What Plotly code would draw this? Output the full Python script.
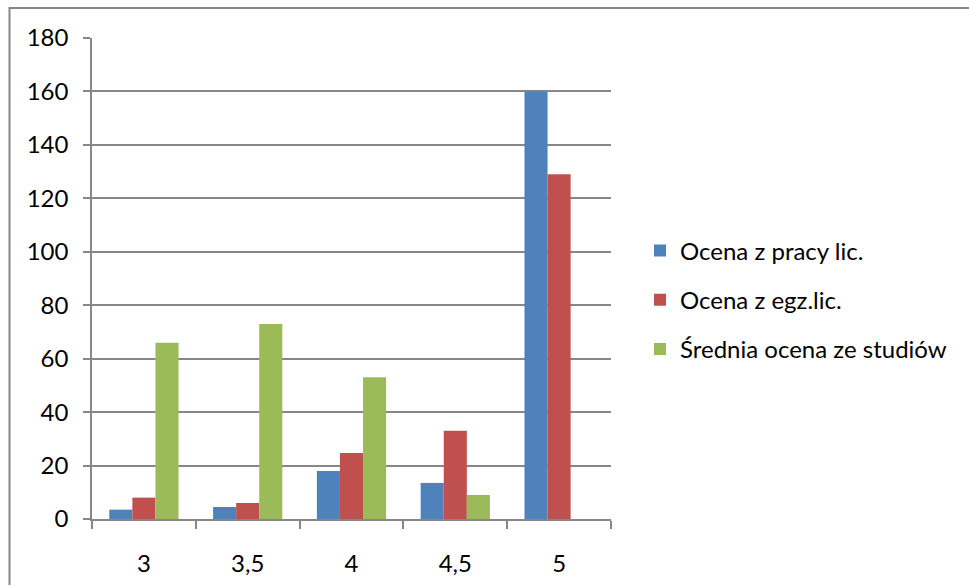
import plotly.graph_objects as go

categories = ["3", "3,5", "4", "4,5", "5"]
praca = [3.5, 4.5, 18, 13.5, 160]
egzamin = [8, 6, 24.7, 33, 129]
srednia = [66, 73, 53, 9, None]
series_names = ["Ocena z pracy lic.", "Ocena z egz.lic.", "Średnia ocena ze studiów"]
colors = ["#4F81BD", "#C0504D", "#9BBB59"]
y_ticks = [0, 20, 40, 60, 80, 100, 120, 140, 160, 180]

W, H = 969, 585
L, R, T, B = 92, 611, 37.5, 519.5

fig = go.Figure()
for i, (name, vals, c) in enumerate(zip(series_names, [praca, egzamin, srednia], colors)):
    fig.add_trace(go.Bar(x=categories, y=vals, name=name, marker_color=c,
                         marker_line_width=0, legendgroup=f"g{i}"))

def px_x(p):
    return (p - L) / (R - L)

def px_y(p):
    return (B - p) / (B - T)

fig.add_shape(type="rect", xref="paper", yref="paper",
              x0=px_x(9.5), x1=px_x(990), y0=px_y(600), y1=px_y(7.5),
              line=dict(color="#878787", width=2), fillcolor="rgba(0,0,0,0)", layer="below")

font = dict(family="Lato, Carlito, sans-serif", size=24, color="#000000")
fig.update_layout(
    width=W, height=H,
    margin=dict(l=L, r=W - R, t=T, b=H - B, pad=0, autoexpand=False),
    paper_bgcolor="white", plot_bgcolor="white",
    barmode="group", bargap=0.333, bargroupgap=0,
    font=font,
    showlegend=True,
    legend=dict(x=640 / W, xanchor="left", xref="container",
                y=1 - 300 / H, yanchor="middle", yref="container",
                font=dict(family="Lato, sans-serif", size=24, color="#000"),
                tracegroupgap=15, itemwidth=30, bgcolor="rgba(0,0,0,0)"),
    xaxis=dict(showgrid=False, showline=True, linecolor="#878787", linewidth=1.5,
               ticks="outside", tickson="boundaries", ticklen=8, tickcolor="#878787",
               tickwidth=1.5, ticklabelstandoff=22, tickfont=font, automargin=False),
    yaxis=dict(range=[0, 180], tickvals=y_ticks, showgrid=True, gridcolor="#878787",
               gridwidth=1.5, showline=True, linecolor="#878787", linewidth=1.5,
               ticks="outside", ticklen=7, tickcolor="#878787", tickwidth=1.5,
               ticklabelstandoff=10, tickfont=font, zeroline=False, automargin=False),
)

fig.write_html("out.html")
